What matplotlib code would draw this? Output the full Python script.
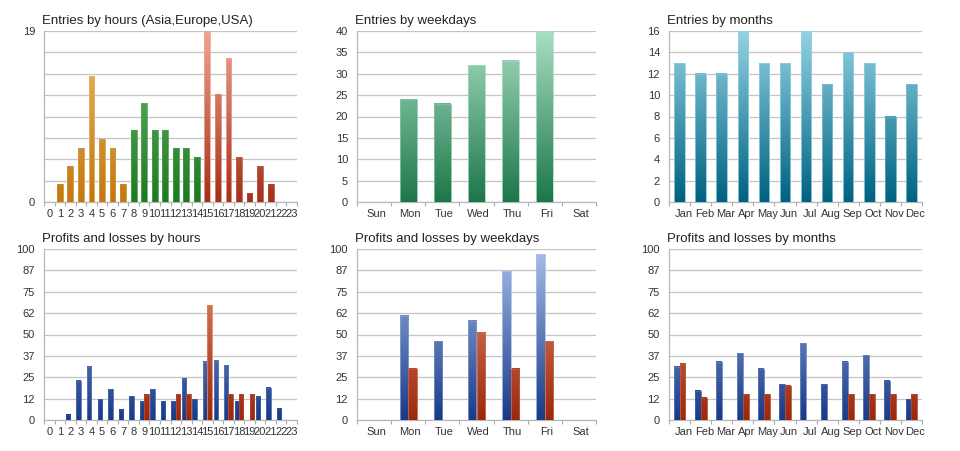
import numpy as np
import matplotlib
matplotlib.use('Agg')
import matplotlib.pyplot as plt
from matplotlib.colors import LinearSegmentedColormap
from matplotlib.transforms import ScaledTranslation

plt.rcParams['font.family'] = ['Liberation Sans', 'DejaVu Sans']

hours = [str(h) for h in range(24)]
weekdays = ['Sun', 'Mon', 'Tue', 'Wed', 'Thu', 'Fri', 'Sat']
months = ['Jan', 'Feb', 'Mar', 'Apr', 'May', 'Jun', 'Jul', 'Aug', 'Sep', 'Oct', 'Nov', 'Dec']

# session of each hour (Asia, Europe, USA)
hour_session = ['Asia'] * 8 + ['Europe'] * 7 + ['USA'] * 9

entries_hours = [0, 2, 4, 6, 14, 7, 6, 2, 8, 11, 8, 8, 6, 6, 5, 19, 12, 16, 5, 1, 4, 2, 0, 0]
entries_weekdays = [0, 24, 23, 32, 33, 40, 0]
entries_months = [13, 12, 12, 16, 13, 13, 16, 11, 14, 13, 8, 11]

profit_hours = [0, 0, 3, 23, 31, 12, 18, 6, 14, 11, 18, 11, 11, 24, 12, 34, 35, 32, 11, 0, 14, 19, 7, 0]
loss_hours = [0, 0, 0, 0, 0, 0, 0, 0, 0, 15, 0, 0, 15, 15, 0, 67, 0, 15, 15, 15, 0, 0, 0, 0]
profit_weekdays = [0, 61, 46, 58, 87, 97, 0]
loss_weekdays = [0, 30, 0, 51, 30, 46, 0]
profit_months = [31, 17, 34, 39, 30, 21, 45, 21, 34, 38, 23, 12]
loss_months = [33, 13, 0, 15, 15, 20, 0, 0, 15, 15, 15, 15]

pl_ticks = [0, 12.5, 25, 37.5, 50, 62.5, 75, 87.5, 100]
pl_ticklabels = ['0', '12', '25', '37', '50', '62', '75', '87', '100']


def cmap(bottom, top):
    return LinearSegmentedColormap.from_list('g', [bottom, top])


session_cmaps = {
    'Asia': cmap('#c27810', '#ebbb6c'),
    'Europe': cmap('#1c7a20', '#72bc72'),
    'USA': cmap('#a3301a', '#f0a490'),
}
week_cmap = cmap('#1d774a', '#a8dec2')
month_cmap = cmap('#006280', '#92d2e4')
profit_cmap = cmap('#183a88', '#a8bee8')
loss_cmap = cmap('#9c280c', '#ea9474')


def gradient_bars(ax, bars, cmaps, ymax):
    # paint each bar with a vertical gradient running over the axis height
    if not isinstance(cmaps, list):
        cmaps = [cmaps] * len(bars)
    for b, cm in zip(bars, cmaps):
        x0, w, h = b.get_x(), b.get_width(), b.get_height()
        if h <= 0:
            continue
        grad = np.linspace(h, 0, 80).reshape(-1, 1)
        ax.imshow(grad, extent=(x0, x0 + w, 0, h), cmap=cm, vmin=0, vmax=ymax,
                  aspect='auto', interpolation='bilinear', zorder=3)
        b.set_facecolor('none')
        b.set_edgecolor(cm(min(1.0, h / ymax + 0.15)))
        b.set_linewidth(0.6)
        b.set_zorder(4)


def style(ax, title, labels, ymax, yticks, yticklabels, label_dx=0):
    n = len(labels)
    ax.set_xlim(-0.5, n - 0.5)
    ax.set_ylim(0, ymax)
    ax.set_yticks(yticks)
    ax.set_yticklabels(yticklabels)
    ax.set_xticks(range(n))
    ax.set_xticklabels(labels)
    ax.set_xticks(np.arange(n + 1) - 0.5, minor=True)
    ax.tick_params(axis='x', which='major', length=0, pad=5, labelsize=8, labelcolor='#333333')
    ax.tick_params(axis='x', which='minor', length=3, color='#aaaaaa', width=0.8)
    ax.tick_params(axis='y', length=0, pad=6.5, labelsize=8, labelcolor='#333333')
    if label_dx:
        off = ScaledTranslation(label_dx / 100, 0, ax.figure.dpi_scale_trans)
        for lab in ax.get_xticklabels():
            lab.set_transform(lab.get_transform() + off)
    ax.grid(axis='y', color='#c4c4c4', lw=0.9)
    ax.set_axisbelow(True)
    for s in ['top', 'right']:
        ax.spines[s].set_visible(False)
    for s in ['left', 'bottom']:
        ax.spines[s].set_color('#b8b8b8')
        ax.spines[s].set_linewidth(0.9)
    ax.set_title(title, loc='left', fontsize=9.5, color='#222222', pad=5, x=-0.008)


fig = plt.figure(figsize=(9.6, 4.51), dpi=100)
W, H = 960, 451
cols = [(44, 297), (357, 596), (669, 922)]
rows = [(31, 202), (249, 420)]
axes = [[fig.add_axes([l / W, 1 - b / H, (r - l) / W, (b - t) / H]) for (l, r) in cols]
        for (t, b) in rows]

x24 = np.arange(24)
x7 = np.arange(7)
x12 = np.arange(12)

# entries by hours
ax = axes[0][0]
bars = ax.bar(x24, entries_hours, width=0.55)
gradient_bars(ax, bars, [session_cmaps[s] for s in hour_session], 19)
style(ax, 'Entries by hours (Asia,Europe,USA)', hours, 19, np.linspace(0, 19, 9),
      ['0', '', '', '', '', '', '', '', '19'])

# entries by weekdays
ax = axes[0][1]
bars = ax.bar(x7, entries_weekdays, width=0.49)
gradient_bars(ax, bars, week_cmap, 40)
style(ax, 'Entries by weekdays', weekdays, 40, range(0, 41, 5), [str(v) for v in range(0, 41, 5)], 2)

# entries by months
ax = axes[0][2]
bars = ax.bar(x12, entries_months, width=0.5)
gradient_bars(ax, bars, month_cmap, 16)
style(ax, 'Entries by months', months, 16, range(0, 17, 2), [str(v) for v in range(0, 17, 2)], 4)

# profits and losses
pl = [
    (axes[1][0], x24, profit_hours, loss_hours, 0.42, hours, 'Profits and losses by hours', 0),
    (axes[1][1], x7, profit_weekdays, loss_weekdays, 0.25, weekdays, 'Profits and losses by weekdays', 2),
    (axes[1][2], x12, profit_months, loss_months, 0.28, months, 'Profits and losses by months', 4),
]
for ax, x, prof, loss, w, labels, title, dx in pl:
    pb = ax.bar(x - w / 2, prof, width=w)
    lb = ax.bar(x + w / 2, loss, width=w)
    gradient_bars(ax, pb, profit_cmap, 100)
    gradient_bars(ax, lb, loss_cmap, 100)
    style(ax, title, labels, 100, pl_ticks, pl_ticklabels, dx)

fig.savefig('out.png', dpi=100, facecolor='white')
